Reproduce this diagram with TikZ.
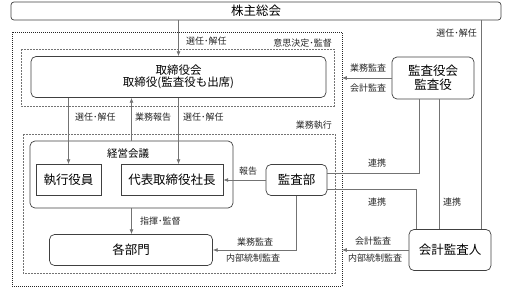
\documentclass[tikz,border=0pt]{standalone}
\usepackage{fontspec}
\setmainfont{Noto Sans CJK JP}
\usetikzlibrary{arrows.meta,positioning}
\newcommand{\fs}[1]{\fontsize{#1}{#1}\selectfont}

\begin{document}
\begin{tikzpicture}[x=1pt,y=-1pt,
  box/.style={draw=black!75,line width=.7pt,rounded corners=5pt,
    inner sep=0pt,align=center,font=\fs{12.5},text=black},
  sqbox/.style={draw=black!75,line width=.7pt,inner sep=0pt,font=\fs{12.5},text=black},
  conn/.style={draw=black!55,line width=.7pt},
  arr/.style={conn,-{Latex[length=1.7mm,width=1.4mm]}},
  lab/.style={font=\fs{9},text=black!85,inner sep=1pt},
  outerframe/.style={draw=black!85,line width=1pt,densely dotted},
  innerframe/.style={draw=black!55,line width=.7pt,dash pattern=on 1.6pt off 1.4pt}
]
 \path[use as bounding box] (0,0) rectangle (515,290);

 % frames
 \draw[outerframe] (12,32) rectangle (342,286);
 \draw[innerframe] (21,49) rectangle (334,106);
 \draw[innerframe] (23,134) rectangle (335,273);
 \coordinate (frameR) at (342,0);
 \coordinate (railR) at (481,0);

 % boxes
 \node[box,rounded corners=3pt,minimum width=490pt,minimum height=18pt] (sokai) at (256,11) {株主総会};
 \node[box,font=\fs{11.5},minimum width=295pt,minimum height=41pt] (board) at (178.5,77)
   {取締役会\\[1pt]取締役(監査役も出席)};
 \node[box,minimum width=203pt,minimum height=67pt] (keiei) at (131.5,174.5) {};
 \node[font=\fs{10.5},text=black] (keieilab) at (128,154) {経営会議};
 \node[sqbox,minimum width=65pt,minimum height=31pt] (shikko) at (68.5,180) {執行役員};
 \node[sqbox,minimum width=102pt,minimum height=31pt] (shacho) at (172,180) {代表取締役社長};
 \node[box,minimum width=61pt,minimum height=31pt] (kansabu) at (296.5,180) {監査部};
 \node[box,minimum width=163pt,minimum height=31pt] (kakubu) at (131,250) {各部門};
 \node[box,minimum width=82pt,minimum height=42pt] (kansayaku) at (433,78)
   {監査役会\\[1pt]監査役};
 \node[box,minimum width=82pt,minimum height=41pt] (kaikei) at (450,250) {会計監査人};

 % connectors inside the company
 \draw[arr] (board.north |- sokai.south) -- (board.north);
 \draw[arr] (board.south -| shikko.north) -- (shikko.north);
 \draw[arr] (keiei.north) -- (keiei.north |- board.south);
 \draw[arr] (board.south) -- (board.south |- shacho.north);
 \draw[arr] (keiei.south) -- (keiei.south |- kakubu.north);
 \draw[arr] (kansabu.west) -- (shacho.east);
 \draw[arr] (kansabu.south) |- (kakubu.east);

 % connectors from the auditors
 \draw[arr] (kansayaku.west) -- (kansayaku.west -| frameR);
 \draw[arr] (kaikei.west) -- (kaikei.west -| frameR);
 \draw[conn] (sokai.south -| railR) -- (kaikei.north -| railR);
 \draw[conn] ([xshift=-14pt]kansayaku.south) |- ([yshift=7pt]kansabu.east);
 \draw[conn] ([xshift=6pt]kansayaku.south) -- ([xshift=6pt]kansayaku.south |- kaikei.north);
 \draw[conn] ([yshift=-9pt]kansabu.east) -| ([xshift=-34pt]kaikei.north);

 % labels
 \node[lab,anchor=west] (l1) at (185,41) {選任･解任};
 \node[lab,anchor=east] (l2) at (333,43) {意思決定･監督};
 \node[lab,anchor=west] (l3) at (74,117) {選任･解任};
 \node[lab,anchor=west] (l4) at (134,117) {業務報告};
 \node[lab,anchor=west] (l5) at (182,117) {選任･解任};
 \node[lab,anchor=east] (l6) at (333,125) {業務執行};
 \node[lab] (l7) at (248,171) {報告};
 \node[lab,anchor=west] (l8) at (139,221) {指揮･監督};
 \node[lab] (l9) at (255,242) {業務監査};
 \node[lab] (l10) at (253,258) {内部統制監査};
 \node[lab,anchor=east] (l11) at (478,33) {選任･解任};
 \node[lab] (l12) at (368,68) {業務監査};
 \node[lab] (l13) at (368,88) {会計監査};
 \node[lab] (l14) at (377,163) {連携};
 \node[lab] (l15) at (377,202) {連携};
 \node[lab] (l16) at (452,202) {連携};
 \node[lab] (l17) at (373,241) {会計監査};
 \node[lab] (l18) at (375,258) {内部統制監査};
\end{tikzpicture}
\end{document}
